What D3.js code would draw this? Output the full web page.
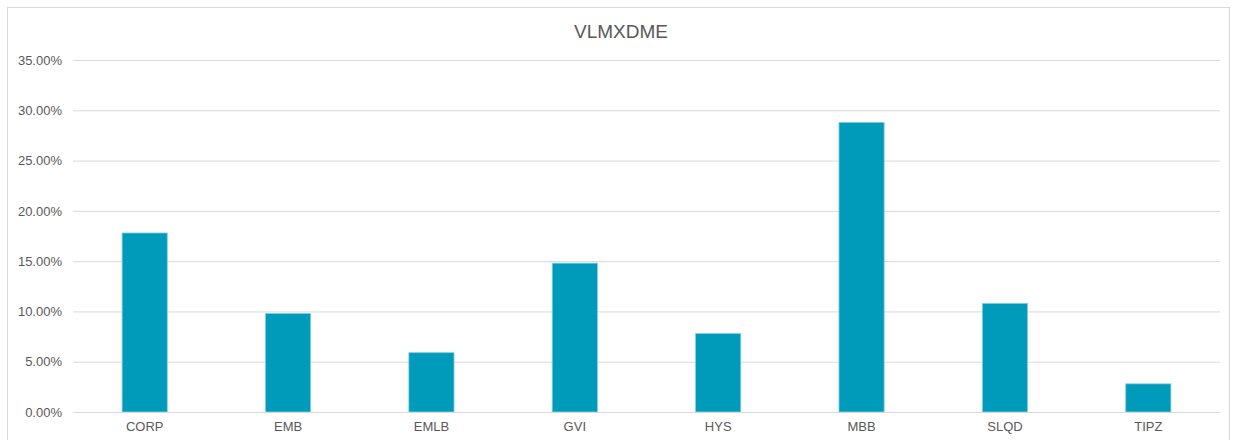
<!DOCTYPE html>
<html>
<head>
<meta charset="utf-8">
<script src="https://cdn.jsdelivr.net/npm/d3@7"></script>
<style>
body { margin:0; background:#fff; font-family:"Liberation Sans", Arial, sans-serif; }
</style>
</head>
<body>
<svg id="chart"></svg>
<script>
var tickers = ["CORP","EMB","EMLB","GVI","HYS","MBB","SLQD","TIPZ"]
var weights = [0.178, 0.098, 0.059, 0.148, 0.078, 0.288, 0.108, 0.028]
var yTicks = [0, 0.05, 0.10, 0.15, 0.20, 0.25, 0.30, 0.35]

var screen = {width:1235, height:440}
var margins = {left:73, right:15, top:60, bottom:28}
var graph = {
	width: screen.width - margins.left - margins.right,
	height: screen.height - margins.top - margins.bottom
}

var svg = d3.select("#chart")
	.attr("width", screen.width)
	.attr("height", screen.height)

// chart frame
svg.append("rect")
	.attr("x", 7.5).attr("y", 7.5)
	.attr("width", 1222).attr("height", 440)
	.attr("fill", "#fff")
	.attr("stroke", "#d9d9d9")

svg.append("text")
	.attr("x", 621).attr("y", 38)
	.attr("text-anchor", "middle")
	.attr("font-size", "19px")
	.attr("fill", "#595959")
	.text("VLMXDME")

var xScale = d3.scaleBand()
	.domain(tickers)
	.range([0, graph.width])
	.paddingInner(0.685)
	.paddingOuter(0.3425)

var yScale = d3.scaleLinear()
	.domain([0, 0.35])
	.range([graph.height, 0])

var target = svg.append("g")
	.attr("transform", "translate(" + margins.left + "," + margins.top + ")")

// gridlines + y labels
var yAxis = d3.axisLeft(yScale)
	.tickValues(yTicks)
	.tickSize(-graph.width)
	.tickPadding(11)
	.tickFormat(d3.format(".2%"))

var yg = target.append("g").call(yAxis)
yg.select(".domain").remove()
yg.selectAll(".tick line").attr("stroke", "#d9d9d9").attr("stroke-width", 1)
yg.selectAll(".tick text")
	.attr("fill", "#595959")
	.attr("font-size", "13px")
	.attr("font-family", "Liberation Sans, Arial, sans-serif")

// bars
target.selectAll("rect.bar")
	.data(weights)
	.enter()
	.append("rect")
	.attr("class", "bar")
	.attr("x", function(d, i) { return xScale(tickers[i]) })
	.attr("y", function(d) { return yScale(d) })
	.attr("width", xScale.bandwidth())
	.attr("height", function(d) { return graph.height - yScale(d) })
	.attr("fill", "#009bbb")
	.attr("stroke", "#7fd0e0")
	.attr("stroke-width", 0.8)

// x axis
var xAxis = d3.axisBottom(xScale).tickSize(0).tickPadding(10)
var xg = target.append("g")
	.attr("transform", "translate(0," + graph.height + ")")
	.call(xAxis)
xg.select(".domain").attr("stroke", "#d9d9d9")
xg.selectAll(".tick text")
	.attr("fill", "#595959")
	.attr("font-size", "13px")
	.attr("font-family", "Liberation Sans, Arial, sans-serif")
</script>
</body>
</html>
